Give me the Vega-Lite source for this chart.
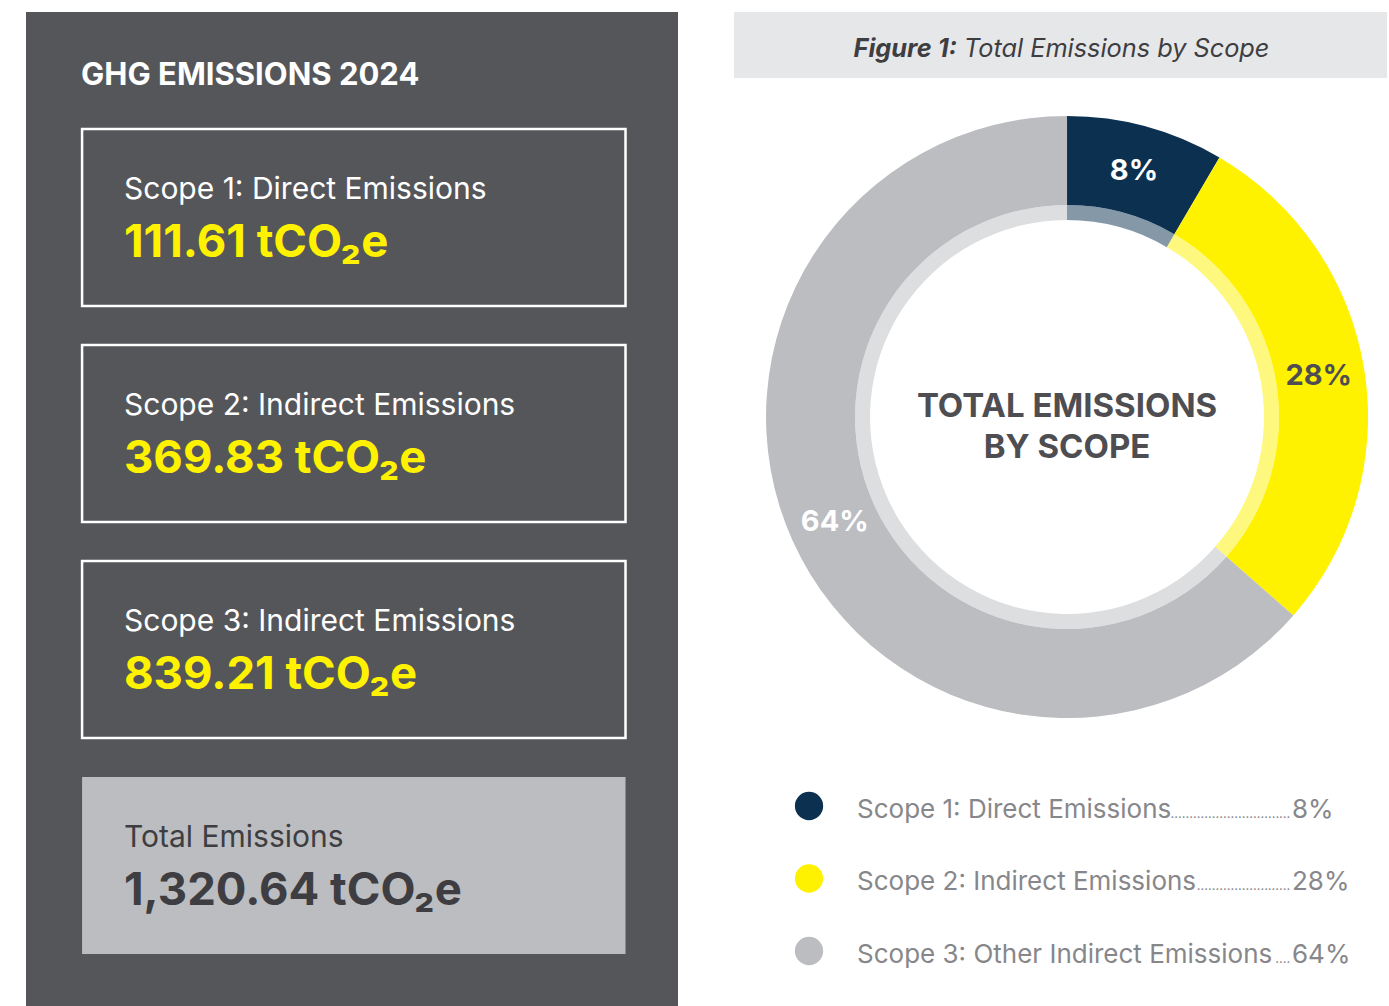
{
  "$schema": "https://vega.github.io/schema/vega-lite/v6.json",
  "padding": {"left": 26, "top": 12, "right": 2, "bottom": 0},
  "background": "white",
  "config": {"font": "Inter", "view": {"stroke": null}},
  "datasets": {
    "boxes": [
      {"key": "Scope 1", "label": "Scope 1: Direct Emissions", "value": 111.61},
      {"key": "Scope 2", "label": "Scope 2: Indirect Emissions", "value": 369.83},
      {"key": "Scope 3", "label": "Scope 3: Indirect Emissions", "value": 839.21},
      {"key": "Total", "label": "Total Emissions", "value": 1320.64}
    ],
    "scopes": [
      {"idx": 1, "key": "Scope 1", "legend": "Scope 1: Direct Emissions", "value": 111.61, "leader": "................................"},
      {"idx": 2, "key": "Scope 2", "legend": "Scope 2: Indirect Emissions", "value": 369.83, "leader": "........................."},
      {"idx": 3, "key": "Scope 3", "legend": "Scope 3: Other Indirect Emissions", "value": 839.21, "leader": "...."}
    ]
  },
  "spacing": 56,
  "hconcat": [
    {
      "width": 652,
      "height": 994,
      "view": {"fill": "#55565a", "stroke": null},
      "layer": [
        {
          "data": {"name": "boxes"},
          "mark": {"type": "rect", "strokeWidth": 2.5},
          "encoding": {
            "y": {"field": "key", "type": "nominal", "scale": {"type": "band", "domain": ["Scope 1", "Scope 2", "Scope 3", "Total"], "paddingInner": 0.1806, "paddingOuter": 0.391, "align": 0.692}, "axis": null},
            "x": {"datum": 8.6, "type": "quantitative", "scale": {"domain": [0, 100]}, "axis": null},
            "x2": {"datum": 91.95},
            "fill": {"condition": {"test": "datum.key === 'Total'", "value": "#bcbdc0"}, "value": "transparent"},
            "stroke": {"condition": {"test": "datum.key === 'Total'", "value": "transparent"}, "value": "#ffffff"}
          }
        },
        {
          "data": {"name": "boxes"},
          "mark": {"type": "text", "align": "left", "baseline": "middle", "fontSize": 30, "dy": -27},
          "encoding": {
            "y": {"field": "key", "type": "nominal", "bandPosition": 0.5},
            "x": {"datum": 15.03, "type": "quantitative"},
            "text": {"field": "label"},
            "color": {"condition": {"test": "datum.key === 'Total'", "value": "#3e3e42"}, "value": "#ffffff"}
          }
        },
        {
          "data": {"name": "boxes"},
          "transform": [{"calculate": "format(datum.value, ',.2f') + ' tCO₂e'", "as": "display"}],
          "mark": {"type": "text", "align": "left", "baseline": "middle", "fontSize": 45.5, "fontWeight": "bold", "dy": 26},
          "encoding": {
            "y": {"field": "key", "type": "nominal", "bandPosition": 0.5},
            "x": {"datum": 15.03, "type": "quantitative"},
            "text": {"field": "display"},
            "color": {"condition": {"test": "datum.key === 'Total'", "value": "#3e3e42"}, "value": "#fff200"}
          }
        },
        {
          "data": {"values": [{"title": "GHG EMISSIONS 2024"}]},
          "mark": {"type": "text", "align": "left", "baseline": "middle", "fontSize": 31, "fontWeight": "bold", "color": "#ffffff", "dy": -141.5},
          "encoding": {
            "y": {"datum": "Scope 1", "type": "nominal", "bandPosition": 0.5},
            "x": {"datum": 8.44, "type": "quantitative"},
            "text": {"field": "title"}
          }
        }
      ]
    },
    {
      "spacing": 30,
      "vconcat": [
        {
          "width": 653,
          "height": 66,
          "view": {"fill": "#e6e7e9", "stroke": null},
          "data": {"values": [{"a": "Figure 1:", "b": "Total Emissions by Scope"}]},
          "layer": [
            {
              "mark": {"type": "text", "align": "right", "baseline": "middle", "fontSize": 25.3, "fontStyle": "italic", "fontWeight": "bold", "color": "#3e3e42", "dy": 4},
              "encoding": {"x": {"datum": 34.15, "type": "quantitative", "scale": {"domain": [0, 100]}, "axis": null}, "text": {"field": "a"}}
            },
            {
              "mark": {"type": "text", "align": "left", "baseline": "middle", "fontSize": 25.3, "fontStyle": "italic", "fontWeight": "normal", "color": "#3e3e42", "dy": 4},
              "encoding": {"x": {"datum": 35.2, "type": "quantitative"}, "text": {"field": "b"}}
            }
          ]
        },
        {
          "width": 653,
          "height": 618,
          "encoding": {
            "x": {"datum": 51.0, "type": "quantitative", "scale": {"domain": [0, 100]}, "axis": null}
          },
          "layer": [
            {
              "data": {"name": "scopes"},
              "mark": {"type": "arc", "outerRadius": 301, "innerRadius": 212},
              "encoding": {
                "theta": {"field": "value", "type": "quantitative", "stack": true},
                "order": {"field": "idx", "type": "quantitative"},
                "color": {"field": "key", "type": "nominal", "scale": {"domain": ["Scope 1", "Scope 2", "Scope 3"], "range": ["#0c3150", "#fff200", "#bcbdc1"]}, "legend": null}
              }
            },
            {
              "data": {"name": "scopes"},
              "mark": {"type": "arc", "outerRadius": 212, "innerRadius": 197, "opacity": 0.5},
              "encoding": {
                "theta": {"field": "value", "type": "quantitative", "stack": true},
                "order": {"field": "idx", "type": "quantitative"},
                "color": {"field": "key", "type": "nominal", "legend": null}
              }
            },
            {
              "data": {"name": "scopes"},
              "transform": [
                {"joinaggregate": [{"op": "sum", "field": "value", "as": "total"}]},
                {"calculate": "datum.value / datum.total", "as": "share"}
              ],
              "mark": {"type": "text", "radius": 255, "fontSize": 29, "fontWeight": "bold", "align": "center", "baseline": "middle"},
              "encoding": {
                "theta": {"field": "value", "type": "quantitative", "stack": true},
                "order": {"field": "idx", "type": "quantitative"},
                "text": {"field": "share", "format": ".0%"},
                "color": {"condition": {"test": "datum.key === 'Scope 2'", "value": "#4e4e52"}, "value": "#ffffff"}
              }
            },
            {
              "data": {"values": [{"label": "TOTAL EMISSIONS\nBY SCOPE"}]},
              "mark": {"type": "text", "fontSize": 33, "fontWeight": "bold", "color": "#4e4e52", "lineHeight": 41, "lineBreak": "\n", "dy": -10.5, "align": "center", "baseline": "middle"},
              "encoding": {"text": {"field": "label"}}
            }
          ]
        },
        {
          "width": 653,
          "height": 250,
          "data": {"name": "scopes"},
          "transform": [
            {"joinaggregate": [{"op": "sum", "field": "value", "as": "total"}]},
            {"calculate": "datum.value / datum.total", "as": "share"}
          ],
          "encoding": {
            "y": {"field": "key", "type": "nominal", "bandPosition": 0.5, "scale": {"type": "band", "domain": ["Scope 1", "Scope 2", "Scope 3"], "paddingInner": 0, "paddingOuter": 0.224, "align": 0.423}, "axis": null}
          },
          "layer": [
            {
              "mark": {"type": "circle", "size": 800, "opacity": 1},
              "encoding": {
                "x": {"datum": 11.49, "type": "quantitative", "scale": {"domain": [0, 100]}, "axis": null},
                "color": {"field": "key", "type": "nominal", "scale": {"domain": ["Scope 1", "Scope 2", "Scope 3"], "range": ["#0c3150", "#fff200", "#bcbdc1"]}, "legend": null}
              }
            },
            {
              "mark": {"type": "text", "align": "left", "baseline": "alphabetic", "fontSize": 26, "color": "#87878b", "dy": 12},
              "encoding": {"x": {"datum": 18.84, "type": "quantitative"}, "text": {"field": "legend"}}
            },
            {
              "mark": {"type": "text", "align": "right", "baseline": "alphabetic", "fontSize": 13, "color": "#87878b", "dy": 12},
              "encoding": {"x": {"datum": 85.2, "type": "quantitative"}, "text": {"field": "leader"}}
            },
            {
              "mark": {"type": "text", "align": "left", "baseline": "alphabetic", "fontSize": 26, "color": "#87878b", "dy": 12},
              "encoding": {"x": {"datum": 85.45, "type": "quantitative"}, "text": {"field": "share", "format": ".0%"}}
            }
          ]
        }
      ]
    }
  ]
}
